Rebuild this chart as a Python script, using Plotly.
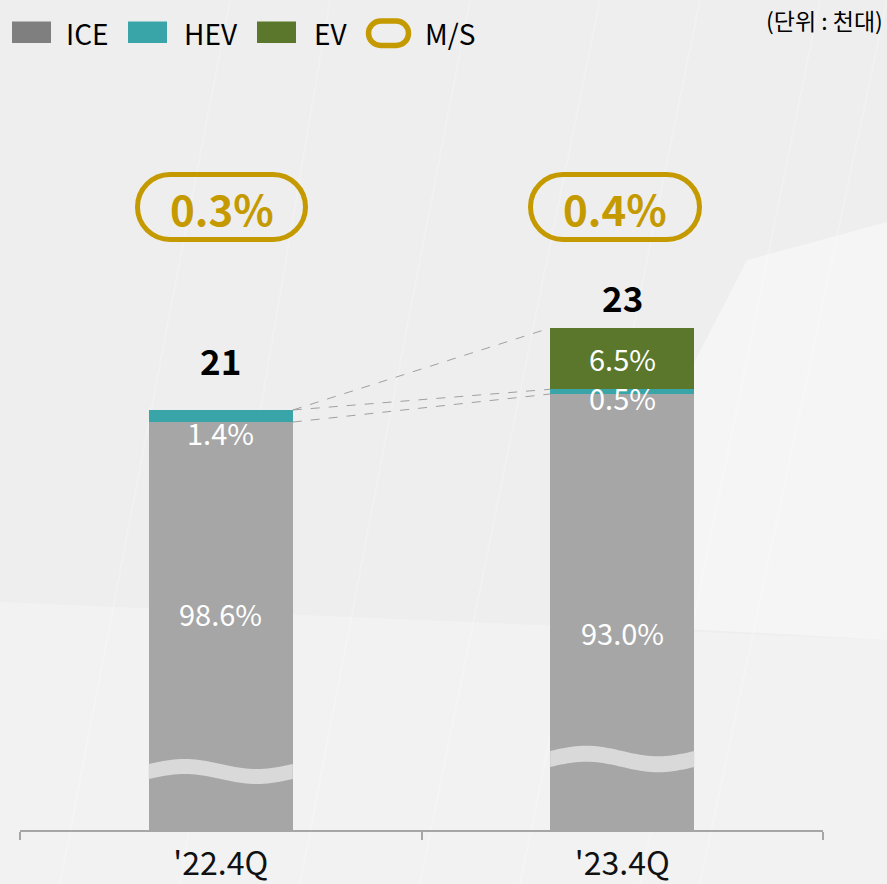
import math
import plotly.graph_objects as go

# ---------------- data ----------------
categories = ["'22.4Q", "'23.4Q"]
totals = [21, 23]            # 천대
ice_share = [98.6, 93.0]     # %
hev_share = [1.4, 0.5]
ev_share = [0.0, 6.5]
ms_share = [0.3, 0.4]        # market share %

ice_vals = [t * s / 100 for t, s in zip(totals, ice_share)]
hev_vals = [t * s / 100 for t, s in zip(totals, hev_share)]
ev_vals = [t * s / 100 for t, s in zip(totals, ev_share)]

# ---------------- style ----------------
W, H = 887, 884
MB = 54
PLOT_H = H - MB
YMIN, YMAX = 10.756, 31.0
PPU = PLOT_H / (YMAX - YMIN)
BAR_W = 0.359
C_ICE_BAR = "#A6A6A6"
C_ICE_LEG = "#7F7F7F"
C_HEV = "#3AA5A9"
C_EV = "#5A772B"
GOLD = "#C49A00"
FONT = "Noto Sans CJK KR"


def px_x(p):
    return p / W


def px_y(p):
    return (PLOT_H - p) / PLOT_H


fig = go.Figure()
fig.add_bar(x=categories, y=ice_vals, name="ICE", marker_color=C_ICE_BAR,
            width=BAR_W, marker_line_width=0, showlegend=False)
fig.add_bar(x=categories, y=hev_vals, name="HEV", marker_color=C_HEV,
            width=BAR_W, marker_line_width=0, showlegend=False)
fig.add_bar(x=categories, y=ev_vals, name="EV", marker_color=C_EV,
            width=BAR_W, marker_line_width=0, showlegend=False)

shapes = []
annotations = []

# ---------- background ----------
shapes.append(dict(type="path", xref="paper", yref="paper", layer="below",
                   path=f"M {px_x(0)} {px_y(602)} L {px_x(887)} {px_y(640)} L {px_x(887)} {px_y(884)} L {px_x(0)} {px_y(884)} Z",
                   fillcolor="rgba(255,255,255,0.28)", line_width=0))
shapes.append(dict(type="path", xref="paper", yref="paper", layer="below",
                   path=f"M {px_x(747)} {px_y(260)} L {px_x(887)} {px_y(222)} L {px_x(887)} {px_y(640)} L {px_x(560)} {px_y(622)} Z",
                   fillcolor="rgba(255,255,255,0.4)", line_width=0))
for x0, x1 in [(180, 330), (300, 470), (420, 600), (640, 820), (700, 887), (60, 230), (520, 700)]:
    shapes.append(dict(type="line", xref="paper", yref="paper", layer="below",
                       x0=px_x(x0), y0=px_y(884), x1=px_x(x1), y1=px_y(0),
                       line=dict(color="rgba(255,255,255,0.22)", width=2)))

# ---------- dashed connectors ----------
cum_ice = ice_vals
cum_hev = [a + b for a, b in zip(ice_vals, hev_vals)]
cum_tot = [a + b for a, b in zip(cum_hev, ev_vals)]
xr = 0 + BAR_W / 2
xl = 1 - BAR_W / 2
for ya, yb in [(cum_tot[0], cum_tot[1]), (cum_tot[0], cum_hev[1]), (cum_ice[0], cum_ice[1])]:
    shapes.append(dict(type="line", xref="x", yref="y", x0=xr, y0=ya, x1=xl, y1=yb,
                       line=dict(color="#A0A0A0", width=1, dash="dash")))

# ---------- axis-break waves ----------
wave_top = [12.366, 12.683]
wave_thick = [15 / PPU, 16 / PPU]
wave_amp = [5 / PPU, 5.3 / PPU]
for i in range(2):
    n = 40
    top = []
    bot = []
    for k in range(n + 1):
        t = k / n
        x = i - BAR_W / 2 + t * BAR_W
        y = wave_top[i] + wave_amp[i] * math.sin(2 * math.pi * t)
        top.append((x, y))
        bot.append((x, y - wave_thick[i]))
    pts = top + bot[::-1]
    path = "M " + " L ".join(f"{x:.5f} {y:.5f}" for x, y in pts) + " Z"
    shapes.append(dict(type="path", xref="x", yref="y", path=path,
                       fillcolor="#D9D9D9", line_width=0))

# ---------- total labels ----------
total_offset = [1.22, 0.78]
for i, t in enumerate(totals):
    annotations.append(dict(x=i, y=cum_tot[i] + total_offset[i], xref="x", yref="y",
                            xanchor="center", yanchor="middle",
                            text=f"<b>{t}</b>", showarrow=False,
                            font=dict(family=FONT, size=35, color="#000000")))

# ---------- percentage labels ----------
ice_label_y = [16.05, 15.59]
hev_label_y = [20.46, 21.32]
ev_label_y = [None, 22.27]
lab_font = dict(family=FONT, size=29, color="white")
for i in range(2):
    annotations.append(dict(x=i, y=ice_label_y[i], xref="x", yref="y",
                            xanchor="center", yanchor="middle",
                            text=f"{ice_share[i]:.1f}%", showarrow=False, font=lab_font))
    annotations.append(dict(x=i, y=hev_label_y[i], xref="x", yref="y",
                            xanchor="center", yanchor="middle",
                            text=f"{hev_share[i]:.1f}%", showarrow=False, font=lab_font))
    if ev_share[i] > 0:
        annotations.append(dict(x=i, y=ev_label_y[i], xref="x", yref="y",
                                xanchor="center", yanchor="middle",
                                text=f"{ev_share[i]:.1f}%", showarrow=False, font=lab_font))


# ---------- M/S pills ----------
def pill_path(x0, y0, x1, y1):
    r = (y1 - y0) / 2
    k = 0.5523 * r
    segs = [
        ("M", [(x0 + r, y0)]),
        ("L", [(x1 - r, y0)]),
        ("C", [(x1 - r + k, y0), (x1, y0 + r - k), (x1, y0 + r)]),
        ("C", [(x1, y0 + r + k), (x1 - r + k, y1), (x1 - r, y1)]),
        ("L", [(x0 + r, y1)]),
        ("C", [(x0 + r - k, y1), (x0, y0 + r + k), (x0, y0 + r)]),
        ("C", [(x0, y0 + r - k), (x0 + r - k, y0), (x0 + r, y0)]),
    ]
    s = ""
    for cmd, ps in segs:
        s += cmd + " " + " ".join(f"{px_x(a):.5f},{px_y(b):.5f}" for a, b in ps) + " "
    return s + "Z"


pill_x = [(137.5, 305.5), (530.5, 699.5)]
for i in range(2):
    shapes.append(dict(type="path", xref="paper", yref="paper",
                       path=pill_path(pill_x[i][0], 174.5, pill_x[i][1], 239.5),
                       line=dict(color=GOLD, width=5), fillcolor="rgba(0,0,0,0)"))
    annotations.append(dict(x=px_x((pill_x[i][0] + pill_x[i][1]) / 2), y=px_y(207),
                            xref="paper", yref="paper", xanchor="center", yanchor="middle",
                            text=f"<b>{ms_share[i]:.1f}%</b>",
                            showarrow=False, font=dict(family=FONT, size=42, color=GOLD)))

# ---------- custom legend ----------
legend_items = [("ICE", C_ICE_LEG, 12, 64), ("HEV", C_HEV, 128, 182), ("EV", C_EV, 257, 312)]
for name, col, bx, tx in legend_items:
    shapes.append(dict(type="rect", xref="paper", yref="paper",
                       x0=px_x(bx), x1=px_x(bx + 39), y0=px_y(21.5), y1=px_y(43),
                       fillcolor=col, line_width=0))
    annotations.append(dict(x=px_x(tx), y=px_y(32.5), xref="paper", yref="paper",
                            text=name, showarrow=False, xanchor="left", yanchor="middle",
                            font=dict(family=FONT, size=28, color="#000000")))
shapes.append(dict(type="path", xref="paper", yref="paper",
                   path=pill_path(368.5, 21, 408.5, 45.5),
                   line=dict(color=GOLD, width=5.5), fillcolor="rgba(0,0,0,0)"))
annotations.append(dict(x=px_x(423), y=px_y(32.5), xref="paper", yref="paper",
                        text="M/S", showarrow=False, xanchor="left", yanchor="middle",
                        font=dict(family=FONT, size=28, color="#000000")))
annotations.append(dict(x=px_x(885), y=px_y(20), xref="paper", yref="paper",
                        text="(단위 : 천대)", showarrow=False, xanchor="right", yanchor="middle",
                        font=dict(family=FONT, size=23, color="#000000")))

fig.update_layout(
    width=W, height=H,
    margin=dict(l=0, r=0, t=0, b=MB, pad=0),
    barmode="stack",
    paper_bgcolor="#EEEEEE",
    plot_bgcolor="rgba(0,0,0,0)",
    showlegend=False,
    shapes=shapes,
    annotations=annotations,
    xaxis=dict(type="category", domain=[20 / W, 823 / W], range=[-0.5, 1.5],
               showline=True, linecolor="#A6A6A6", linewidth=1.5,
               ticks="outside", tickson="boundaries", ticklen=8, tickcolor="#A6A6A6",
               tickwidth=1.5, showgrid=False, zeroline=False, ticklabelstandoff=5,
               tickfont=dict(family=FONT, size=32, color="#111111")),
    yaxis=dict(range=[YMIN, YMAX], visible=False, showgrid=False, zeroline=False),
)

fig.write_html("out.html", config={"displayModeBar": False},
               post_script="document.body.style.margin='0';document.body.style.overflow='hidden';")
